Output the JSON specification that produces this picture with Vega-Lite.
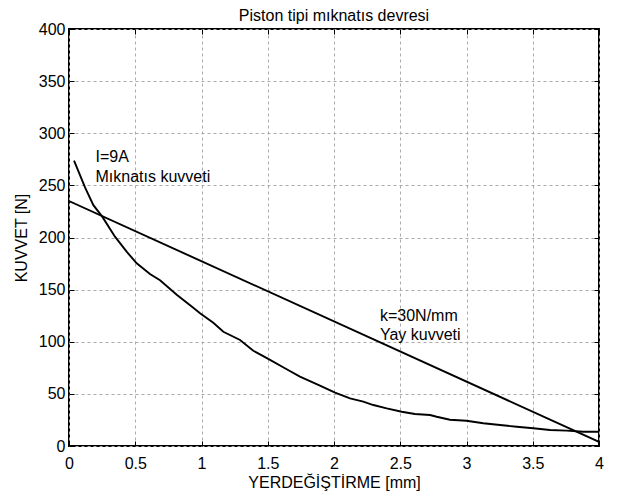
{
  "$schema": "https://vega.github.io/schema/vega-lite/v6.json",
  "autosize": {"type": "none"},
  "padding": {"left": 69, "top": 29, "right": 24, "bottom": 51},
  "width": 530,
  "height": 417,
  "background": "white",
  "title": {"text": "Piston tipi mıknatıs devresi", "font": "Liberation Sans", "fontSize": 16, "fontWeight": "normal", "color": "black", "baseline": "alphabetic", "offset": -16},
  "config": {
    "view": {"stroke": "black", "strokeWidth": 2},
    "axis": {
      "labelFont": "Liberation Sans", "labelFontSize": 16, "labelColor": "black",
      "titleFont": "Liberation Sans", "titleFontSize": 16, "titleFontWeight": "normal", "titleColor": "black",
      "domain": false, "tickColor": "black", "tickWidth": 1, "tickSize": -5,
      "gridColor": "#aaaaaa", "gridDash": [3, 3], "gridWidth": 1
    }
  },
  "layer": [
    {
      "data": {"values": [
        {"s": "yay", "x": 0, "f": 235},
        {"s": "yay", "x": 4, "f": 4},
        {"s": "m", "x": 0.038, "f": 273.7},
        {"s": "m", "x": 0.121, "f": 248},
        {"s": "m", "x": 0.184, "f": 231},
        {"s": "m", "x": 0.251, "f": 220},
        {"s": "m", "x": 0.347, "f": 200.8},
        {"s": "m", "x": 0.435, "f": 186.4},
        {"s": "m", "x": 0.511, "f": 175.2},
        {"s": "m", "x": 0.611, "f": 165},
        {"s": "m", "x": 0.687, "f": 159},
        {"s": "m", "x": 0.813, "f": 145},
        {"s": "m", "x": 0.938, "f": 132.5},
        {"s": "m", "x": 0.989, "f": 127.3},
        {"s": "m", "x": 1.089, "f": 118.3},
        {"s": "m", "x": 1.165, "f": 109.6},
        {"s": "m", "x": 1.291, "f": 101.7},
        {"s": "m", "x": 1.391, "f": 91.4},
        {"s": "m", "x": 1.497, "f": 84.1},
        {"s": "m", "x": 1.643, "f": 73.6},
        {"s": "m", "x": 1.743, "f": 66.5},
        {"s": "m", "x": 1.894, "f": 58},
        {"s": "m", "x": 2.008, "f": 51.1},
        {"s": "m", "x": 2.121, "f": 45.7},
        {"s": "m", "x": 2.221, "f": 42.5},
        {"s": "m", "x": 2.297, "f": 39.3},
        {"s": "m", "x": 2.398, "f": 36.1},
        {"s": "m", "x": 2.511, "f": 32.9},
        {"s": "m", "x": 2.611, "f": 30.7},
        {"s": "m", "x": 2.725, "f": 29.7},
        {"s": "m", "x": 2.775, "f": 28.1},
        {"s": "m", "x": 2.875, "f": 25.2},
        {"s": "m", "x": 3.0, "f": 24.2},
        {"s": "m", "x": 3.127, "f": 21.8},
        {"s": "m", "x": 3.253, "f": 20.1},
        {"s": "m", "x": 3.379, "f": 18.5},
        {"s": "m", "x": 3.504, "f": 17},
        {"s": "m", "x": 3.63, "f": 15.3},
        {"s": "m", "x": 3.756, "f": 14.7},
        {"s": "m", "x": 3.882, "f": 13.7},
        {"s": "m", "x": 4.0, "f": 13.7}
      ]},
      "mark": {"type": "line", "color": "black", "strokeWidth": 1.9, "clip": true},
      "encoding": {
        "x": {"field": "x", "type": "quantitative", "scale": {"domain": [0, 4], "nice": false},
              "axis": {"orient": "bottom", "title": "YERDEĞİŞTİRME [mm]", "values": [0, 0.5, 1, 1.5, 2, 2.5, 3, 3.5, 4], "format": "~g", "labelPadding": 14, "titlePadding": 3, "labelFlush": false}},
        "y": {"field": "f", "type": "quantitative", "scale": {"domain": [0, 400], "nice": false},
              "axis": {"orient": "left", "title": "KUVVET [N]", "values": [0, 50, 100, 150, 200, 250, 300, 350, 400], "labelPadding": 9, "titlePadding": 9, "labelFlush": false}},
        "detail": {"field": "s"}
      }
    },
    {
      "data": {"values": [
        {"x": 0.2, "f": 272, "t": "I=9A"},
        {"x": 0.2, "f": 253.5, "t": "Mıknatıs kuvveti"},
        {"x": 2.347, "f": 120, "t": "k=30N/mm"},
        {"x": 2.347, "f": 101.3, "t": "Yay kuvveti"}
      ]},
      "mark": {"type": "text", "align": "left", "baseline": "alphabetic", "font": "Liberation Sans", "fontSize": 16, "color": "black"},
      "encoding": {
        "x": {"field": "x", "type": "quantitative", "scale": {"domain": [0, 4], "nice": false},
              "axis": {"orient": "top", "title": null, "labels": false, "grid": false, "values": [0, 0.5, 1, 1.5, 2, 2.5, 3, 3.5, 4]}},
        "y": {"field": "f", "type": "quantitative", "scale": {"domain": [0, 400], "nice": false},
              "axis": {"orient": "right", "title": null, "labels": false, "grid": false, "values": [0, 50, 100, 150, 200, 250, 300, 350, 400]}},
        "text": {"field": "t"}
      }
    }
  ],
  "resolve": {"axis": {"x": "independent", "y": "independent"}}
}
